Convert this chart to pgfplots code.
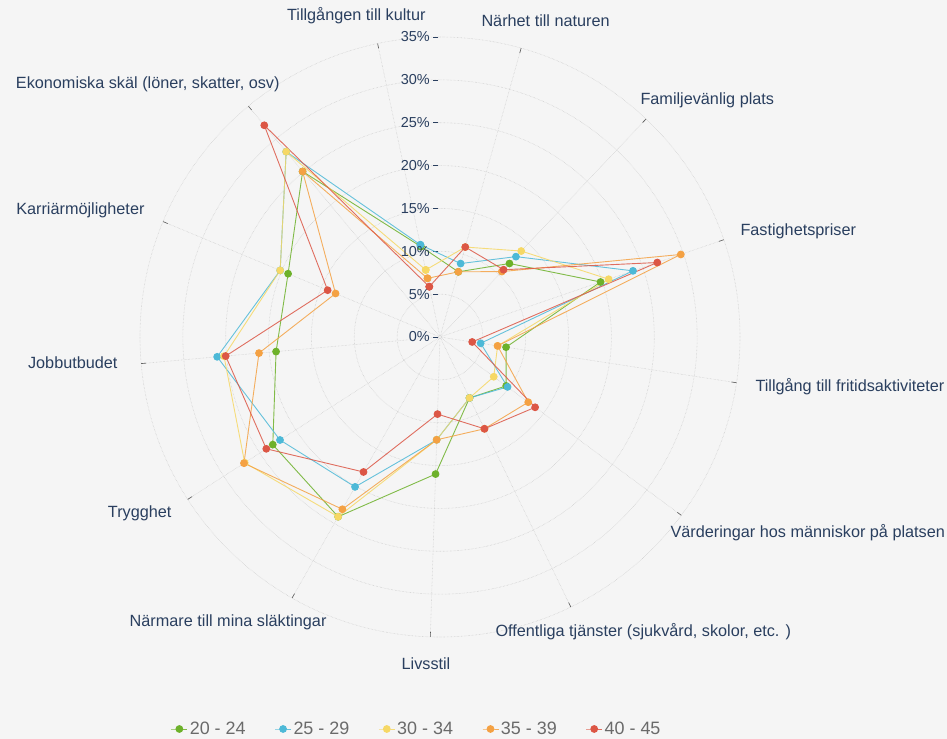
\documentclass[border=0pt]{standalone}
\usepackage{pgfplots}
\pgfplotsset{compat=1.18}
\usepackage{pgfplotstable}
\usepgfplotslibrary{polar}
\usetikzlibrary{backgrounds}
\usepackage{fontspec}
\setmainfont{Liberation Sans}

\definecolor{bg}{HTML}{F5F5F5}
\definecolor{txt}{HTML}{2A3F5F}
\definecolor{gridc}{HTML}{CACACA}
\definecolor{legtxt}{HTML}{6A6A6A}
\definecolor{cg}{HTML}{6DB12A}
\definecolor{cc}{HTML}{4DB9D7}
\definecolor{cy}{HTML}{F6D865}
\definecolor{co}{HTML}{F4A143}
\definecolor{cr}{HTML}{DC5645}

% angle (deg, counter-clockwise) and share in % per age group
\pgfplotstableread{
ang    g    c    y    o    r
102.00 10.8 11.0 8.0  7.0  6.0
434.31 7.9  8.9  10.9 7.9  10.9
406.62 11.8 12.9 13.8 10.5 10.8
378.92 19.8 23.8 20.8 29.7 26.8
351.23 7.8  4.8  6.8  6.8  3.8
323.54 9.6  9.8  7.8  12.8 13.8
295.85 7.9  7.9  7.9  11.9 11.9
268.15 16.0 12.0 12.0 12.0 9.0
240.46 24.1 20.1 24.1 23.1 18.1
212.77 23.2 22.2 27.1 27.2 24.1
185.08 19.2 26.1 25.3 21.2 25.1
157.38 19.2 20.2 20.2 13.2 14.2
129.69 25.1 28.1 28.1 25.1 32.1
102.00 10.8 11.0 8.0  7.0  6.0
}\data

\begin{document}
\begin{tikzpicture}
\begin{polaraxis}[
  at={(0,0)}, anchor=center,
  scale only axis, width=600bp, height=600bp,
  xmin=90, xmax=450, ymin=0, ymax=35,
  xtick={102,129.69,157.38,185.08,212.77,240.46,268.15,295.85,323.54,351.23,378.92,406.62,434.31},
  ytick={0,5,...,35},
  xticklabels={}, yticklabels={},
  xticklabel style={text opacity=0}, yticklabel style={text opacity=0},
  grid=major,
  major grid style={gridc, densely dotted, line width=0.6bp},
  axis line style={draw=none},
  tick align=outside,
  major tick length=5bp,
  xtick style={draw=black!65, line width=0.6bp},
  ytick style={draw=txt, line width=0.6bp, xshift=-7bp},
  clip=false,
  every axis plot/.append style={line width=0.9bp, mark=*, mark size=3.4bp},
  legend image code/.code={\draw[mark repeat=2,mark phase=2,#1] plot coordinates {(0bp,0bp) (8bp,0bp) (16bp,0bp)};},
  legend style={at={(0.0512,-0.1533)}, anchor=west, draw=none, fill=none,
    inner sep=0pt, legend columns=5,
    font=\fontsize{18}{20}\selectfont, text=legtxt,
    /tikz/every even column/.append style={column sep=27bp}},
]
\coordinate (O) at (axis cs:0,0);
\addplot[cg, draw opacity=0.85, mark options={fill=cg, draw=cg, opacity=1}] table[x=ang, y=g] {\data};
\addplot[cc, draw opacity=0.85, mark options={fill=cc, draw=cc, opacity=1}] table[x=ang, y=c] {\data};
\addplot[cy, draw opacity=0.85, mark options={fill=cy, draw=cy, opacity=1}] table[x=ang, y=y] {\data};
\addplot[co, draw opacity=0.85, mark options={fill=co, draw=co, opacity=1}] table[x=ang, y=o] {\data};
\addplot[cr, draw opacity=0.85, mark options={fill=cr, draw=cr, opacity=1}] table[x=ang, y=r] {\data};
\legend{20 - 24, 25 - 29, 30 - 34, 35 - 39, 40 - 45}
\end{polaraxis}

\begin{scope}[shift={(O)}, x=1bp, y=1bp, text=txt, font=\fontsize{16.3}{19}\selectfont]
\node[anchor=base east] at (-11,316) {Tillgången till kultur};
\node[anchor=base west] at (38,310) {Närhet till naturen};
\node[anchor=base west] at (197,232) {Familjevänlig plats};
\node[anchor=base west] at (297,101) {Fastighetspriser};
\node[anchor=base west] at (312,-55) {Tillgång till fritidsaktiviteter};
\node[anchor=base west] at (227,-200) {Värderingar hos människor på platsen};
\node[anchor=base west] at (52,-299) {Offentliga tjänster (sjukvård, skolor, etc. )};
\node[anchor=base] at (-14,-332) {Livsstil};
\node[anchor=base east] at (-110,-289) {Närmare till mina släktingar};
\node[anchor=base east] at (-265,-180) {Trygghet};
\node[anchor=base east] at (-319,-32) {Jobbutbudet};
\node[anchor=base east] at (-292,122) {Karriärmöjligheter};
\node[anchor=base east] at (-157,248) {Ekonomiska skäl (löner, skatter, osv)};
\end{scope}

\begin{scope}[shift={(O)}, x=1bp, y=1bp, text=txt, font=\fontsize{14.5}{16}\selectfont]
\node[anchor=east, inner sep=0pt] at (-10,0) {0\%};
\node[anchor=east, inner sep=0pt] at (-10,42.86) {5\%};
\node[anchor=east, inner sep=0pt] at (-10,85.71) {10\%};
\node[anchor=east, inner sep=0pt] at (-10,128.57) {15\%};
\node[anchor=east, inner sep=0pt] at (-10,171.43) {20\%};
\node[anchor=east, inner sep=0pt] at (-10,214.29) {25\%};
\node[anchor=east, inner sep=0pt] at (-10,257.14) {30\%};
\node[anchor=east, inner sep=0pt] at (-10,300) {35\%};
\end{scope}

\begin{scope}[on background layer]
\fill[bg, shift={(O)}, x=1bp, y=1bp] (-440,337) rectangle (507,-402);
\end{scope}
\pgfresetboundingbox
\path[use as bounding box, shift={(O)}, x=1bp, y=1bp] (-440,337) rectangle (507,-402);
\end{tikzpicture}
\end{document}
